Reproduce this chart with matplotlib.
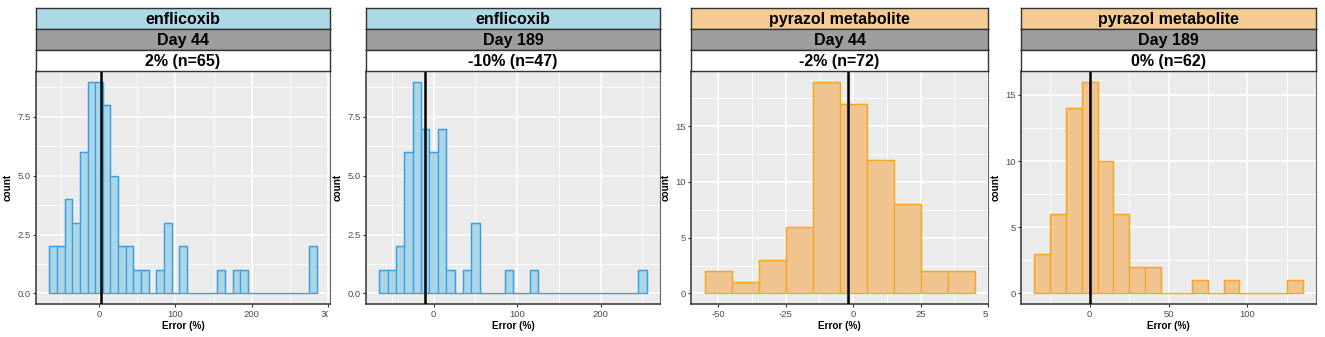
import matplotlib
matplotlib.use("Agg")
import matplotlib.pyplot as plt
import numpy as np
from matplotlib.transforms import Bbox, TransformedBbox
from matplotlib.ticker import FixedLocator

# ---------------- data ----------------
drugs = ["enflicoxib", "enflicoxib", "pyrazol metabolite", "pyrazol metabolite"]
days = ["Day 44", "Day 189", "Day 44", "Day 189"]
summaries = ["2% (n=65)", "-10% (n=47)", "-2% (n=72)", "0% (n=62)"]
mean_error = [2, -10, -2, 0]
bin_width = 10
bin_start = [-65, -65, -55, -35]

counts_enf_d44 = [2, 2, 4, 3, 6, 9, 9, 8, 5, 2, 2, 1, 1, 0, 1, 3, 0, 2, 0, 0,
                  0, 0, 1, 0, 1, 1, 0, 0, 0, 0, 0, 0, 0, 0, 2]
counts_enf_d189 = [1, 1, 2, 6, 9, 7, 6, 7, 1, 0, 1, 3, 0, 0, 0, 1, 0, 0, 1, 0,
                   0, 0, 0, 0, 0, 0, 0, 0, 0, 0, 0, 1]
counts_pyr_d44 = [2, 1, 3, 6, 19, 17, 12, 8, 2, 2]
counts_pyr_d189 = [3, 6, 14, 16, 10, 6, 2, 2, 0, 0, 1, 0, 1, 0, 0, 0, 1]
counts = [counts_enf_d44, counts_enf_d189, counts_pyr_d44, counts_pyr_d189]

x_major = [[0, 100, 200, 300], [0, 100, 200], [-50, -25, 0, 25, 50], [0, 50, 100]]
x_minor = [[-50, 50, 150, 250], [-50, 50, 150, 250], [-37.5, -12.5, 12.5, 37.5],
           [-25, 25, 75, 125]]
y_major = [[0, 2.5, 5, 7.5], [0, 2.5, 5, 7.5], [0, 5, 10, 15], [0, 5, 10, 15]]
y_labels = [["0.0", "2.5", "5.0", "7.5"], ["0.0", "2.5", "5.0", "7.5"],
            ["0", "5", "10", "15"], ["0", "5", "10", "15"]]
y_minor = [[1.25, 3.75, 6.25, 8.75], [1.25, 3.75, 6.25, 8.75],
           [2.5, 7.5, 12.5, 17.5], [2.5, 7.5, 12.5]]

# ---------------- style ----------------
drug_strip = {"enflicoxib": "#ADD8E6", "pyrazol metabolite": "#F5CB93"}
bar_fill = {"enflicoxib": "#ABD6E8", "pyrazol metabolite": "#EFC48E"}
bar_edge = {"enflicoxib": "#3A9FE2", "pyrazol metabolite": "#F4A81E"}
day_strip = "#9E9E9E"
panel_bg = "#EBEBEB"

W, H = 1325, 337
fig = plt.figure(figsize=(W / 100, H / 100), dpi=100)
plt.rcParams["font.family"] = ["Liberation Sans", "DejaVu Sans"]

panel_x = [(36, 330), (366, 660), (691, 988), (1021, 1316)]
clip_right = [328, 662, 988, 1325]
p_top, p_bot = 71, 304
strip_rows = [(8, 29), (29, 50), (50, 71)]


def fx(px):
    return px / W


def fy(py):
    return 1 - py / H


for i in range(4):
    x0, x1 = panel_x[i]
    ax = fig.add_axes([fx(x0), fy(p_bot), fx(x1 - x0), (p_bot - p_top) / H])
    ax.set_facecolor(panel_bg)
    c = np.array(counts[i])
    edges = bin_start[i] + bin_width * np.arange(len(c) + 1)
    ax.bar(edges[:-1], c, width=bin_width, align="edge",
           color=bar_fill[drugs[i]], edgecolor=bar_edge[drugs[i]],
           linewidth=0.9, zorder=3)
    # baseline outline across empty bins (as ggplot draws it)
    ax.stairs(c, edges, baseline=0, color=bar_edge[drugs[i]], linewidth=0.9,
              zorder=3.5)
    ax.axvline(mean_error[i], color="black", linewidth=1.8, zorder=4)

    lo, hi = edges[0], edges[-1]
    ax.set_xlim(lo - 0.05 * (hi - lo), hi + 0.05 * (hi - lo))
    ymax = c.max()
    ax.set_ylim(-0.05 * ymax, ymax * 1.05)

    ax.xaxis.set_major_locator(FixedLocator(x_major[i]))
    ax.xaxis.set_minor_locator(FixedLocator(x_minor[i]))
    ax.set_xticklabels([str(v) for v in x_major[i]])
    ax.yaxis.set_major_locator(FixedLocator(y_major[i]))
    ax.yaxis.set_minor_locator(FixedLocator(y_minor[i]))
    ax.set_yticklabels(y_labels[i])
    ax.grid(which="major", color="white", linewidth=1.1, zorder=0)
    ax.grid(which="minor", color="white", linewidth=0.6, zorder=0)
    ax.set_axisbelow(True)
    ax.tick_params(which="major", length=2.5, width=0.8, color="#333333",
                   labelsize=6.8, labelcolor="#4D4D4D", pad=1.5)
    ax.tick_params(which="minor", length=0)
    for s in ax.spines.values():
        s.set_color("#666666")
        s.set_linewidth(0.8)
    for s in ("left", "bottom"):
        ax.spines[s].set_color("#333333")
        ax.spines[s].set_linewidth(1.1)
    ax.set_xlabel("Error (%)", fontsize=7.2, fontweight="bold", labelpad=2)
    ax.set_ylabel("count", fontsize=7.2, fontweight="bold", labelpad=3)

    clip = TransformedBbox(Bbox([[0, 0], [fx(clip_right[i]), 1]]), fig.transFigure)
    for t in ax.xaxis.get_major_ticks():
        t.label1.set_clip_on(True)
        t.label1.set_clip_box(clip)

    # strips
    strip_info = [(drugs[i], drug_strip[drugs[i]]), (days[i], day_strip),
                  (summaries[i], "white")]
    for (txt, col), (sy0, sy1) in zip(strip_info, strip_rows):
        sax = fig.add_axes([fx(x0), fy(sy1), fx(x1 - x0), (sy1 - sy0) / H])
        sax.set_facecolor(col)
        sax.set_xticks([])
        sax.set_yticks([])
        for s in sax.spines.values():
            s.set_color("#333333")
            s.set_linewidth(1.0)
        sax.text(0.5, 0.47, txt, ha="center", va="center", fontsize=11.5,
                 fontweight="bold", color="black", transform=sax.transAxes)

fig.savefig("out.png", dpi=100)
